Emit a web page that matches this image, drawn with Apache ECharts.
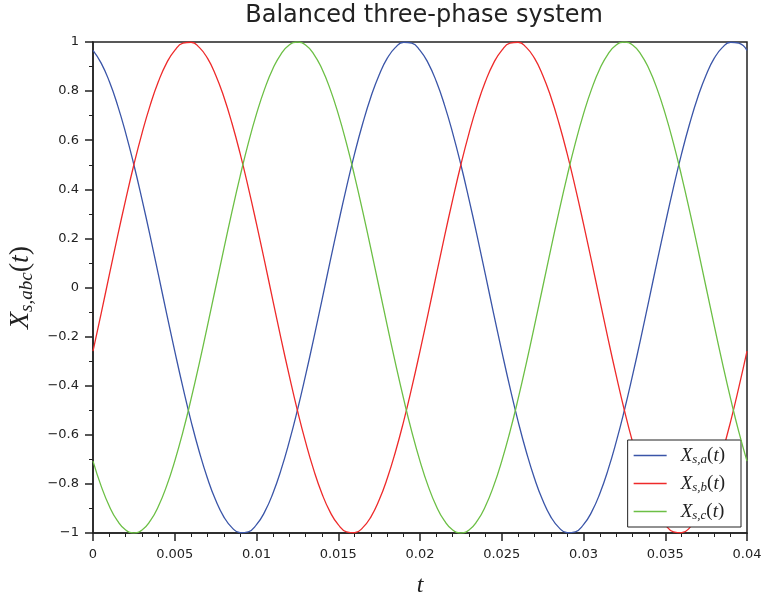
<!DOCTYPE html>
<html>
<head>
<meta charset="utf-8">
<script src="https://cdn.jsdelivr.net/npm/echarts@6/dist/echarts.min.js"></script>
<style>
html,body{margin:0;padding:0;background:#fff;}
#chart{width:761px;height:598px;}
</style>
</head>
<body>
<div id="chart"></div>
<script>
const t = [0,0.0005,0.001,0.0015,0.002,0.0025,0.003,0.0035,0.004,0.0045,
0.005,0.0055,0.006,0.0065,0.007,0.0075,0.008,0.0085,0.009,0.0095,
0.01,0.0105,0.011,0.0115,0.012,0.0125,0.013,0.0135,0.014,0.0145,
0.015,0.0155,0.016,0.0165,0.017,0.0175,0.018,0.0185,0.019,0.0195,
0.02,0.0205,0.021,0.0215,0.022,0.0225,0.023,0.0235,0.024,0.0245,
0.025,0.0255,0.026,0.0265,0.027,0.0275,0.028,0.0285,0.029,0.0295,
0.03,0.0305,0.031,0.0315,0.032,0.0325,0.033,0.0335,0.034,0.0345,
0.035,0.0355,0.036,0.0365,0.037,0.0375,0.038,0.0385,0.039,0.0395,0.04];

const xsa = [0.966,0.914,0.839,0.743,0.629,0.500,0.358,0.208,0.052,-0.105,
-0.259,-0.407,-0.545,-0.669,-0.777,-0.866,-0.934,-0.978,-0.999,-0.995,
-0.966,-0.914,-0.839,-0.743,-0.629,-0.500,-0.358,-0.208,-0.052,0.105,
0.259,0.407,0.545,0.669,0.777,0.866,0.934,0.978,0.999,0.995,
0.966,0.914,0.839,0.743,0.629,0.500,0.358,0.208,0.052,-0.105,
-0.259,-0.407,-0.545,-0.669,-0.777,-0.866,-0.934,-0.978,-0.999,-0.995,
-0.966,-0.914,-0.839,-0.743,-0.629,-0.500,-0.358,-0.208,-0.052,0.105,
0.259,0.407,0.545,0.669,0.777,0.866,0.934,0.978,0.999,0.995,0.966];

const xsb = [-0.259,-0.105,0.052,0.208,0.358,0.500,0.629,0.743,0.839,0.914,
0.966,0.995,0.999,0.978,0.934,0.866,0.777,0.669,0.545,0.407,
0.259,0.105,-0.052,-0.208,-0.358,-0.500,-0.629,-0.743,-0.839,-0.914,
-0.966,-0.995,-0.999,-0.978,-0.934,-0.866,-0.777,-0.669,-0.545,-0.407,
-0.259,-0.105,0.052,0.208,0.358,0.500,0.629,0.743,0.839,0.914,
0.966,0.995,0.999,0.978,0.934,0.866,0.777,0.669,0.545,0.407,
0.259,0.105,-0.052,-0.208,-0.358,-0.500,-0.629,-0.743,-0.839,-0.914,
-0.966,-0.995,-0.999,-0.978,-0.934,-0.866,-0.777,-0.669,-0.545,-0.407,-0.259];

const xsc = [-0.707,-0.809,-0.891,-0.951,-0.988,-1.000,-0.988,-0.951,-0.891,-0.809,
-0.707,-0.588,-0.454,-0.309,-0.156,0.000,0.156,0.309,0.454,0.588,
0.707,0.809,0.891,0.951,0.988,1.000,0.988,0.951,0.891,0.809,
0.707,0.588,0.454,0.309,0.156,0.000,-0.156,-0.309,-0.454,-0.588,
-0.707,-0.809,-0.891,-0.951,-0.988,-1.000,-0.988,-0.951,-0.891,-0.809,
-0.707,-0.588,-0.454,-0.309,-0.156,0.000,0.156,0.309,0.454,0.588,
0.707,0.809,0.891,0.951,0.988,1.000,0.988,0.951,0.891,0.809,
0.707,0.588,0.454,0.309,0.156,0.000,-0.156,-0.309,-0.454,-0.588,-0.707];

const seriesNames = ['Xsa','Xsb','Xsc'];
const legendSubs = {Xsa:'s,a', Xsb:'s,b', Xsc:'s,c'};
const colors = ['#3a55a8','#ee2a2a','#6cbf45'];
const titleText = 'Balanced three-phase system';

const chart = echarts.init(document.getElementById('chart'), null, {renderer:'canvas'});
const pair = (ys) => ys.map((y, i) => [t[i], y]);
const serif = 'Liberation Serif';
const sans = 'DejaVu Sans';

chart.setOption({
  animation: false,
  backgroundColor: '#fff',
  title: {
    text: titleText,
    left: 419, textAlign: 'center', top: -1,
    textStyle: {fontFamily: sans, fontSize: 24, fontWeight: 'normal', color: '#222'}
  },
  grid: {left: 93, right: 14, top: 42, bottom: 65, show: true, borderColor: '#222', borderWidth: 1.5,
    containLabel: false, outerBoundsMode: 'none'},
  legend: {
    orient: 'vertical', right: 20, bottom: 71,
    backgroundColor: '#fff', borderColor: '#222', borderWidth: 1,
    padding: [6, 16, 5, 6], itemGap: 8, itemWidth: 33, itemHeight: 1.3,
    icon: 'rect',
    data: seriesNames,
    formatter: (n) => '{x|X}{s|' + legendSubs[n] + '}{p|(}{x|t}{p|)}',
    textStyle: {
      padding: [0, 0, 0, 9],
      rich: {
        x: {fontFamily: serif, fontStyle: 'italic', fontSize: 19, color: '#222', lineHeight: 21},
        s: {fontFamily: serif, fontStyle: 'italic', fontSize: 13, color: '#222', lineHeight: 12, verticalAlign: 'bottom', padding: [5, 0, 0, 0]},
        p: {fontFamily: serif, fontSize: 19, color: '#222', lineHeight: 21}
      }
    }
  },
  xAxis: {
    type: 'value', min: 0, max: 0.04, interval: 0.005,
    name: 't', nameLocation: 'middle', nameGap: 41,
    nameTextStyle: {fontFamily: serif, fontStyle: 'italic', fontSize: 24, color: '#222'},
    axisLine: {show: true, onZero: false, lineStyle: {color: '#222', width: 1.5}},
    axisTick: {show: true, inside: false, length: 8, lineStyle: {color: '#222', width: 1.5}},
    minorTick: {show: true, splitNumber: 5, length: 4, lineStyle: {color: '#222', width: 1}},
    axisLabel: {fontFamily: sans, fontSize: 13, color: '#222', margin: 15},
    splitLine: {show: false}
  },
  yAxis: {
    type: 'value', min: -1, max: 1, interval: 0.2,
    name: '{x|X}{s|s,abc}{p|(}{x|t}{p|)}', nameLocation: 'middle', nameGap: 53, nameRotate: 90,
    nameTextStyle: {
      rich: {
        x: {fontFamily: serif, fontStyle: 'italic', fontSize: 28, color: '#222', lineHeight: 32},
        s: {fontFamily: serif, fontStyle: 'italic', fontSize: 19, color: '#222', lineHeight: 18, verticalAlign: 'bottom', padding: [6, 0, 0, 0]},
        p: {fontFamily: serif, fontSize: 28, color: '#222', lineHeight: 32}
      }
    },
    axisLine: {show: true, onZero: false, lineStyle: {color: '#222', width: 1.5}},
    axisTick: {show: true, inside: false, length: 8, lineStyle: {color: '#222', width: 1.5}},
    minorTick: {show: true, splitNumber: 2, length: 4, lineStyle: {color: '#222', width: 1}},
    axisLabel: {fontFamily: sans, fontSize: 13, color: '#222', margin: 14,
      formatter: (v) => String(Math.round(v * 10) / 10).replace('-', '\u2212')},
    splitLine: {show: false}
  },
  series: seriesNames.map((n, i) => ({
    name: n, type: 'line', smooth: true, symbol: 'none', showSymbol: false,
    data: pair([xsa, xsb, xsc][i]),
    lineStyle: {color: colors[i], width: 1.3},
    itemStyle: {color: colors[i]},
    z: 2 + i
  }))
});
</script>
</body>
</html>
